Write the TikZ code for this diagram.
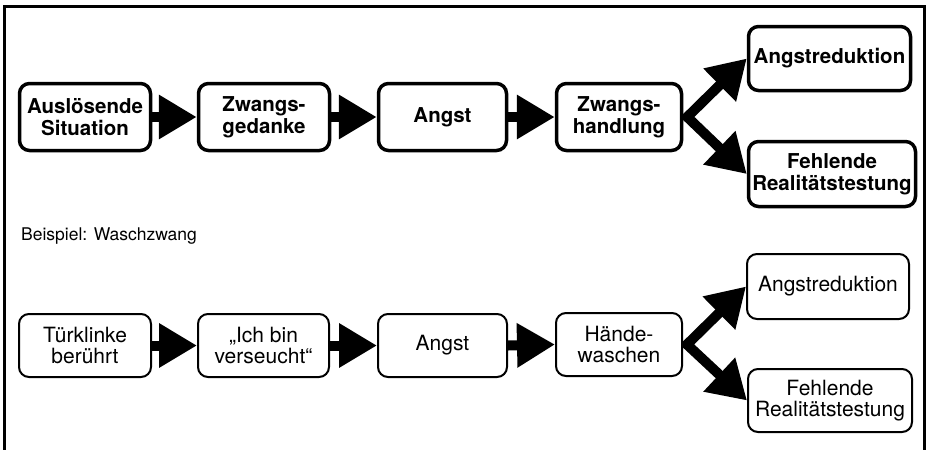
\documentclass[tikz,border=0pt]{standalone}
\usepackage{fontspec}
\setmainfont{TeX Gyre Heros}
\usetikzlibrary{arrows.meta,backgrounds}
\tikzset{
  topbox/.style={draw, line width=3.5pt, rounded corners=10pt, fill=white, align=center,
    inner sep=0pt, font=\bfseries\fontsize{20.5}{22}\selectfont},
  botbox/.style={draw, line width=2pt, rounded corners=10pt, fill=white, align=center,
    inner sep=0pt, font=\fontsize{21}{21}\selectfont},
  bigarrow/.style={line width=10pt, -{Triangle[length=38pt,width=42pt]}},
  forkarrow/.style={line width=10pt, line join=miter,
    {Triangle[length=38pt,width=44pt]}-{Triangle[length=38pt,width=44pt]}},
}
\begin{document}
\begin{tikzpicture}[x=1pt,y=-1pt]
\useasboundingbox (0,0) rectangle (927,450);
\draw[line width=3pt] (4.5,451) -- (4.5,6) -- (924,6) -- (924,451);

% top row
\node[topbox, minimum width=131pt, minimum height=67pt] (b1) at (85,117) {Auslösende\\Situation};
\node[topbox, minimum width=131pt, minimum height=67pt] (b2) at (264,117) {Zwangs-\\gedanke};
\node[topbox, minimum width=128pt, minimum height=67pt] (b3) at (442.5,117) {Angst};
\node[topbox, minimum width=125pt, minimum height=67pt] (b4) at (619,117) {Zwangs-\\handlung};
\node[topbox, minimum width=162pt, minimum height=64pt] (r1) at (829.5,58.5) {Angstreduktion};
\node[topbox, minimum width=167pt, minimum height=65pt] (r2) at (832,174) {Fehlende\\Realitätstestung};

\coordinate (j1) at ([xshift=4pt]b4.east);
\draw[bigarrow] (b1.east) -- (b2.west);
\draw[bigarrow] (b2.east) -- (b3.west);
\draw[bigarrow] (b3.east) -- (b4.west);
\begin{scope}[on background layer]
\draw[forkarrow] (r1.west) -- (j1) -- (r2.west);
\end{scope}

\node[anchor=base west, inner sep=0pt, font=\fontsize{17.5}{17.5}\selectfont] (bsp) at (21,240) {Beispiel: Waschzwang};

% bottom row
\node[botbox, minimum width=132pt, minimum height=63pt] (c1) at (85,345.5) {Türklinke\\berührt};
\node[botbox, minimum width=131pt, minimum height=63pt] (c2) at (263.5,345.5) {„Ich bin\\verseucht“};
\node[botbox, minimum width=129pt, minimum height=63pt] (c3) at (442.5,345.5) {Angst};
\node[botbox, minimum width=126pt, minimum height=63pt] (c4) at (619,344.5) {Hände-\\waschen};
\node[botbox, minimum width=162pt, minimum height=65pt] (s1) at (828,286.5) {Angstreduktion};
\node[botbox, minimum width=164pt, minimum height=63pt] (s2) at (830,400.5) {Fehlende\\Realitätstestung};

\coordinate (j2) at ([xshift=4pt]c4.east);
\draw[bigarrow] (c1.east) -- (c2.west);
\draw[bigarrow] (c2.east) -- (c3.west);
\draw[bigarrow] (c3.east) -- (c4.west);
\begin{scope}[on background layer]
\draw[forkarrow] (s1.west) -- (j2) -- (s2.west);
\end{scope}
\end{tikzpicture}
\end{document}
